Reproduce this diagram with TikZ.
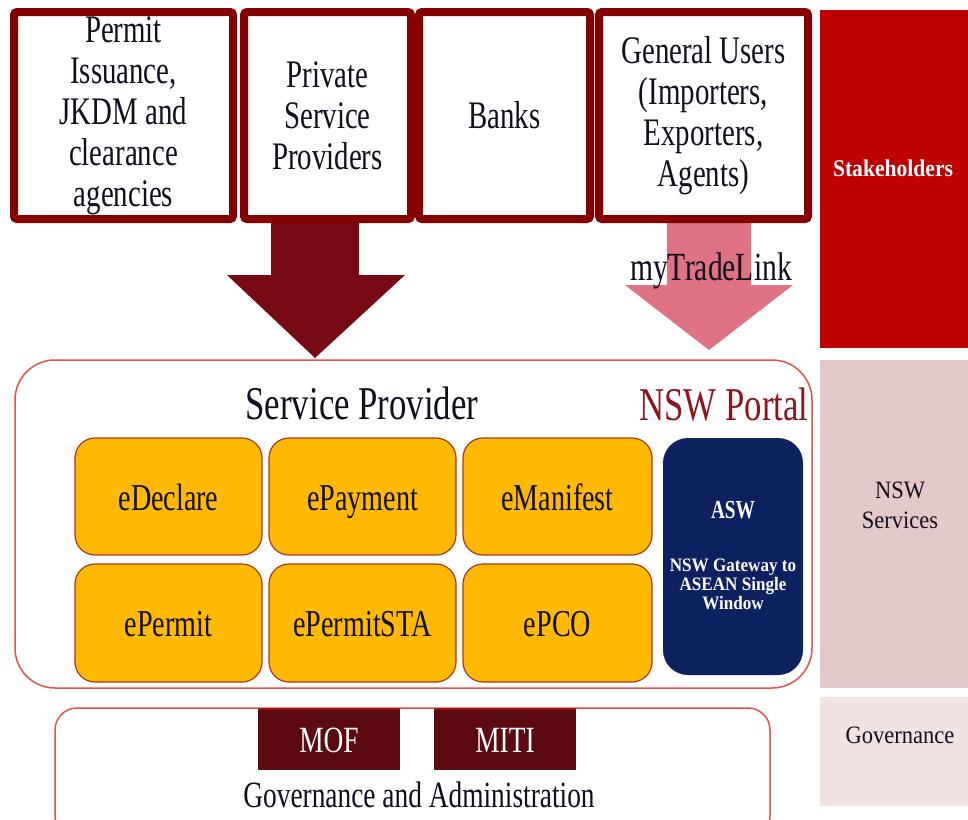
\documentclass[tikz,border=0pt]{standalone}
\usepackage{fontspec}
\usetikzlibrary{calc}
\setmainfont{Liberation Serif}[FakeStretch=0.74]
\newfontfamily\sidefont{Liberation Serif}[FakeStretch=0.9]
\definecolor{topred}{RGB}{135,0,0}
\definecolor{arrdark}{RGB}{120,10,20}
\definecolor{arrpink}{RGB}{224,115,131}
\definecolor{spred}{RGB}{232,80,74}
\definecolor{orangefill}{RGB}{255,185,0}
\definecolor{orangeline}{RGB}{163,58,30}
\definecolor{navyfill}{RGB}{13,32,96}
\definecolor{mofred}{RGB}{91,10,16}
\definecolor{mofstripe}{RGB}{160,20,20}
\definecolor{stakered}{RGB}{190,0,0}
\definecolor{nswpink}{RGB}{229,200,200}
\definecolor{govpink}{RGB}{242,227,227}
\definecolor{portalred}{RGB}{139,21,32}
\definecolor{inktext}{RGB}{15,15,30}
\tikzset{
  topbox/.style={draw=topred, line width=8pt, rounded corners=3pt, fill=white, text=inktext,
    align=center, inner sep=0pt, font=\fontsize{39}{41}\selectfont},
  svcbox/.style={draw=orangeline, line width=1.2pt, rounded corners=20pt, fill=orangefill,
    inner sep=0pt, text=inktext, text height=30pt, text depth=3pt, font=\fontsize{38}{40}\selectfont},
  outerbox/.style={draw=spred, line width=1.5pt, fill=white},
  mofbox/.style={fill=mofred, text=white, inner sep=0pt, text height=28pt, text depth=2pt,
    font=\fontsize{37}{39}\selectfont},
  sidebox/.style={inner sep=0pt, draw=none},
  sidetext/.style={align=center, text=inktext, font=\sidefont\fontsize{25}{30}\selectfont}
}
\begin{document}
\begin{tikzpicture}[x=1pt,y=-1pt]
\useasboundingbox (0,0) rectangle (968,819);
\fill[white] (0,0) rectangle (968,819);

% right column
\node[sidebox, fill=stakered, minimum width=148pt, minimum height=338pt] (stake) at (894,179) {};
\node[sidebox, fill=nswpink, minimum width=148pt, minimum height=328pt] (nswsv) at (894,524) {};
\node[sidebox, fill=govpink, minimum width=148pt, minimum height=109pt] (gov) at (894,751.5) {};
\node[sidetext, text=white, font=\sidefont\bfseries\fontsize{24}{28}\selectfont] (staket) at (893,168) {Stakeholders};
\node[sidetext] (nswsvt) at (900,505) {NSW\\Services};
\node[sidetext] (govt) at (900,735) {Governance};

% arrows
\coordinate (a1top) at (315,223);
\coordinate (a1tip) at (315,358);
\fill[arrdark] ($(a1top)+(-44,0)$) -- ($(a1top)+(44,0)$) -- ($(a1top)+(44,52)$) -- ($(a1top)+(90,52)$)
  -- (a1tip) -- ($(a1top)+(-88,52)$) -- ($(a1top)+(-44,52)$) -- cycle;
\coordinate (a2top) at (709,223);
\coordinate (a2tip) at (709,350);
\fill[arrpink] ($(a2top)+(-42,0)$) -- ($(a2top)+(42,0)$) -- ($(a2top)+(42,62)$) -- ($(a2top)+(84,62)$)
  -- (a2tip) -- ($(a2top)+(-84,62)$) -- ($(a2top)+(-42,62)$) -- cycle;
\node[font=\fontsize{40}{42}\selectfont, text=inktext, inner sep=0pt] (mtl) at (711,271) {myTradeLink};

% top boxes
\node[topbox, minimum width=219pt, minimum height=207pt] (b1) at (123.5,115.5) {Permit\\Issuance,\\JKDM and\\clearance\\agencies};
\node[topbox, minimum width=167pt, minimum height=207pt] (b2) at (327.5,115.5) {Private\\Service\\Providers};
\node[topbox, minimum width=171pt, minimum height=207pt] (b3) at (504.5,115.5) {Banks};
\node[topbox, minimum width=209pt, minimum height=207pt] (b4) at (703.5,115.5) {General Users\\(Importers,\\Exporters,\\Agents)};

% service provider area
\node[outerbox, rounded corners=40pt, minimum width=797pt, minimum height=328pt] (sp) at (413.5,524) {};
\node[font=\fontsize{47}{49}\selectfont, text=inktext, inner sep=0pt] (spt) at (362,403) {Service Provider};
\node[font=\fontsize{47}{49}\selectfont, text=portalred, inner sep=0pt] (portal) at (724,405) {NSW Portal};

\node[svcbox, minimum width=187pt, minimum height=117pt] (edec) at (168.5,496.5) {eDeclare};
\node[svcbox, minimum width=187pt, minimum height=117pt] (epay) at (362.5,496.5) {ePayment};
\node[svcbox, minimum width=189pt, minimum height=117pt] (eman) at (557.5,496.5) {eManifest};
\node[svcbox, minimum width=187pt, minimum height=118pt] (eper) at (168.5,623) {ePermit};
\node[svcbox, minimum width=187pt, minimum height=118pt] (esta) at (362.5,623) {ePermitSTA};
\node[svcbox, minimum width=189pt, minimum height=118pt] (epco) at (557.5,623) {ePCO};

\node[fill=navyfill, rounded corners=25pt, minimum width=140pt, minimum height=237pt, inner sep=0pt] (asw) at (733,556.5) {};
\node[text=white, font=\bfseries\fontsize{26}{28}\selectfont, inner sep=0pt] (aswt) at (733,510) {ASW};
\node[text=white, align=center, font=\sidefont\bfseries\fontsize{19}{19}\selectfont, inner sep=0pt] (aswd) at (733,584) {NSW Gateway to\\ASEAN Single\\Window};

% governance
\node[outerbox, rounded corners=22pt, minimum width=715pt, minimum height=130pt] (ga) at (412.5,773) {};
\node[mofbox, minimum width=142pt, minimum height=62pt] (mof) at (329,739) {MOF};
\node[mofbox, minimum width=142pt, minimum height=62pt] (miti) at (505,739) {MITI};
\draw[mofstripe, line width=2pt] ([yshift=-1pt]mof.north west) -- ([yshift=-1pt]mof.north east);
\draw[mofstripe, line width=2pt] ([yshift=-1pt]miti.north west) -- ([yshift=-1pt]miti.north east);
\node[font=\fontsize{37}{39}\selectfont, text=inktext, inner sep=0pt] (gat) at (419,795) {Governance and Administration};
\end{tikzpicture}
\end{document}
